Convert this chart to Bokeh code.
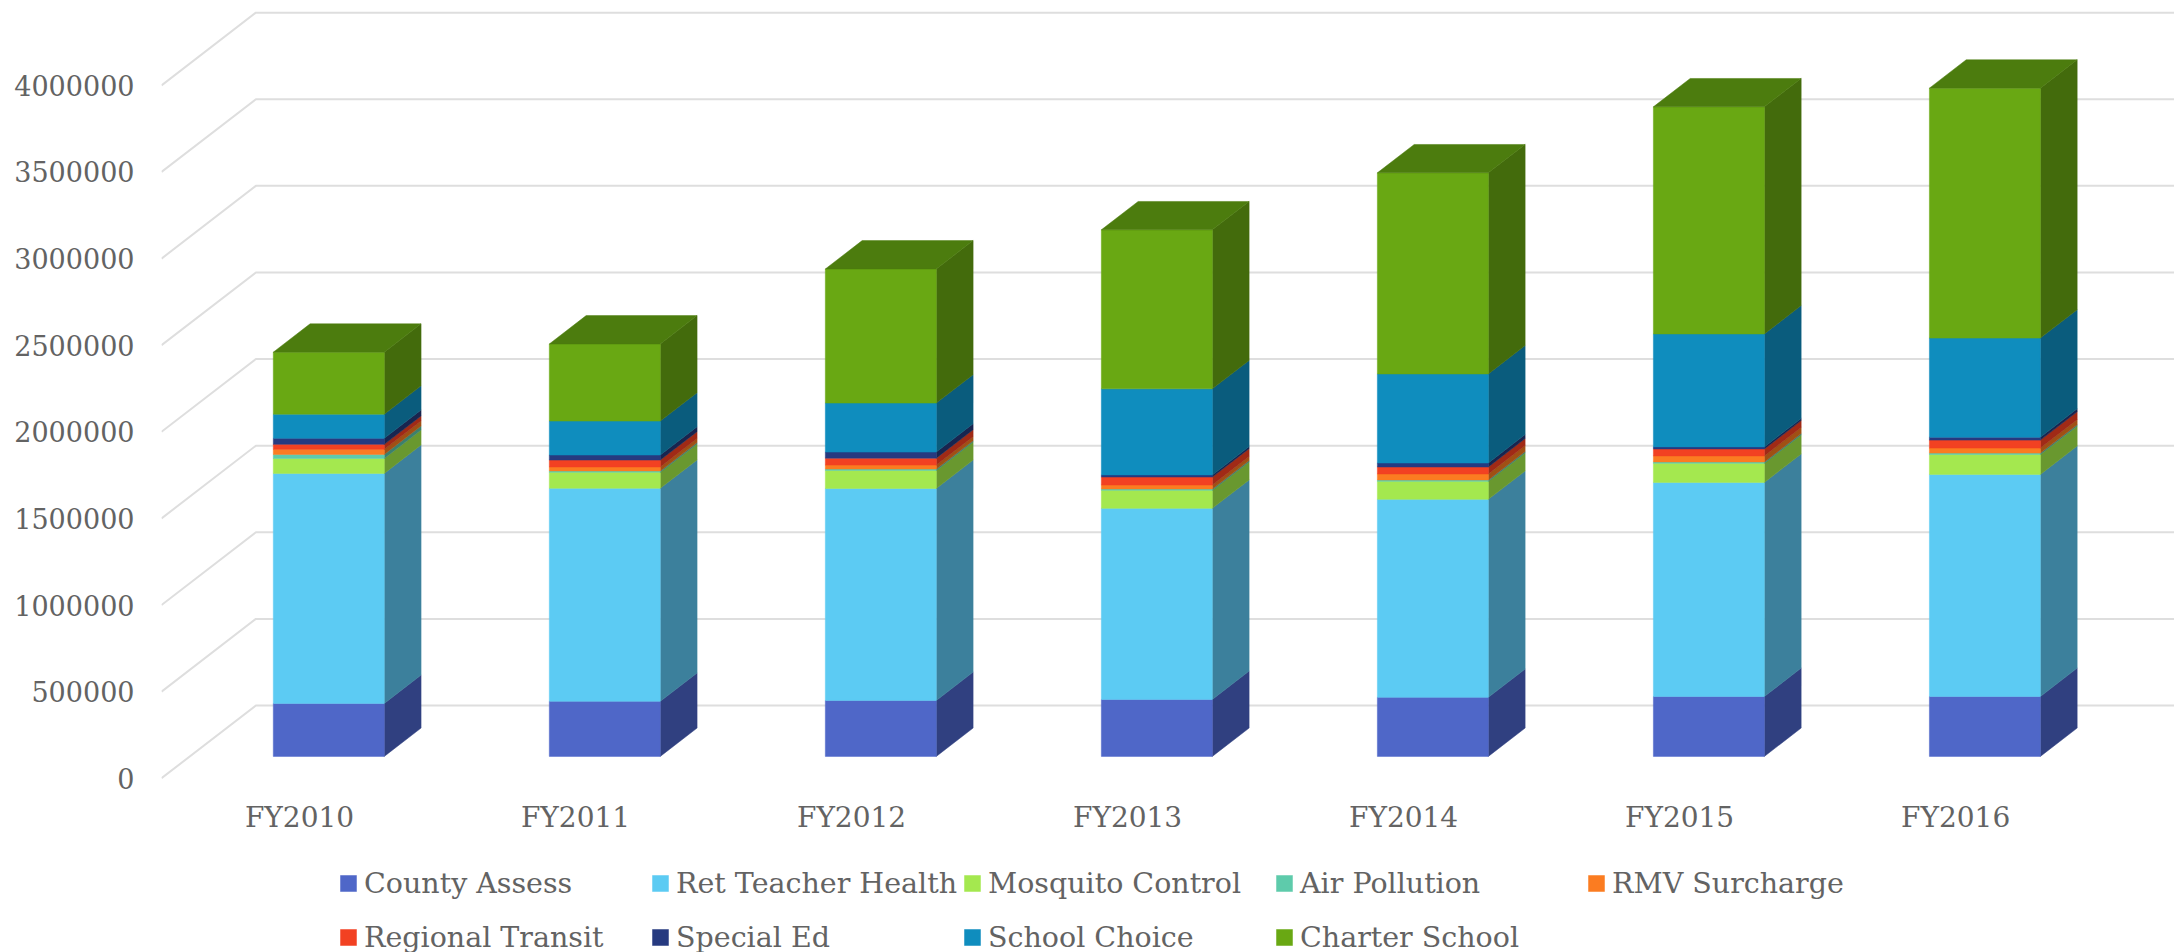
from bokeh.embed import file_html
from bokeh.models import FixedTicker, Legend, LegendItem
from bokeh.plotting import figure
from bokeh.resources import INLINE

# Stacked budget charges per fiscal year
years = ["FY2010", "FY2011", "FY2012", "FY2013", "FY2014", "FY2015", "FY2016"]

county_assess = [306000, 318000, 323000, 329000, 341000, 346000, 346000]
ret_teacher_health = [1328000, 1230000, 1224000, 1103000, 1143000, 1236000, 1282000]
mosquito_control = [86600, 92000, 104000, 104000, 104000, 110000, 115000]
air_pollution = [23000, 8000, 8000, 8000, 8000, 8000, 8000]
rmv_surcharge = [29000, 23000, 23000, 23000, 35000, 35000, 29000]
regional_transit = [29000, 40000, 40000, 46000, 40000, 40000, 46000]
special_ed = [35000, 29000, 35000, 12000, 23000, 12000, 17000]
school_choice = [139000, 196000, 283000, 497000, 514000, 652000, 572000]
charter_school = [358000, 445000, 774000, 918000, 1161000, 1311000, 1443000]

series_names = ["County Assess", "Ret Teacher Health", "Mosquito Control", "Air Pollution",
                "RMV Surcharge", "Regional Transit", "Special Ed", "School Choice", "Charter School"]
series_values = [county_assess, ret_teacher_health, mosquito_control, air_pollution,
                 rmv_surcharge, regional_transit, special_ed, school_choice, charter_school]
front_colors = ["#4F67C8", "#5CCBF3", "#A4E84F", "#5ECBAB", "#FB7C21",
                "#F24122", "#263A80", "#0F8DBE", "#69A813"]
side_colors = ["#304080", "#3C809C", "#69982F", "#3C806C", "#A05014",
               "#A02A16", "#182550", "#0A5C7D", "#436B0C"]
top_color = "#4C7C0E"

value_ticks = [0, 500000, 1000000, 1500000, 2000000, 2500000, 3000000, 3500000, 4000000]

# Oblique projection: floor depth expressed in category and value units
WALL_DX, WALL_DY = 0.342, 420000
FRONT_FRAC = 0.31
BAR_FRAC = 0.39
BAR_WIDTH = 0.402
BAR_DX, BAR_DY = WALL_DX * BAR_FRAC, WALL_DY * BAR_FRAC
BASE_RISE = 126000
X_MIN, X_MAX = -0.5, 6.793
Y_MIN, Y_MAX = -1006000, 4490000
text_color = "#636363"
font = "DejaVu Serif"

p = figure(width=2174, height=952, output_backend="svg", toolbar_location=None,
           x_range=(X_MIN, X_MAX), y_range=(Y_MIN, Y_MAX),
           min_border_left=161, min_border_right=0, min_border_top=0, min_border_bottom=0,
           outline_line_color=None)
p.grid.visible = False

# Floor and back-wall gridlines
p.multi_line(xs=[[X_MIN, X_MIN + WALL_DX, X_MAX] for _ in value_ticks],
             ys=[[v, v + WALL_DY, v + WALL_DY] for v in value_ticks],
             line_color="#DEDEDE", line_width=2)

positions = list(range(len(years)))
off_x = WALL_DX * FRONT_FRAC
off_y = BASE_RISE
legend_items = []
running = [0.0] * len(years)
for name, vals, fc, sc in zip(series_names, series_values, front_colors, side_colors):
    bottoms = [r + off_y for r in running]
    tops = [r + v + off_y for r, v in zip(running, vals)]
    running = [r + v for r, v in zip(running, vals)]
    centers = [i + off_x for i in positions]
    right = [c + BAR_WIDTH / 2 for c in centers]
    # Right-hand face of each box
    p.patches(xs=[[r, r + BAR_DX, r + BAR_DX, r] for r in right],
              ys=[[b, b + BAR_DY, t + BAR_DY, t] for b, t in zip(bottoms, tops)],
              fill_color=sc, line_color=sc, line_width=0.5)
    bar = p.vbar(x=centers, bottom=bottoms, top=tops, width=BAR_WIDTH,
                 fill_color=fc, line_color=fc, line_width=0.5)
    legend_items.append(LegendItem(label=name, renderers=[bar]))

# Lid on the top segment of each stack
left = [i + off_x - BAR_WIDTH / 2 for i in positions]
right = [i + off_x + BAR_WIDTH / 2 for i in positions]
lid_y = [r + off_y for r in running]
p.patches(xs=[[l, r, r + BAR_DX, l + BAR_DX] for l, r in zip(left, right)],
          ys=[[y, y, y + BAR_DY, y + BAR_DY] for y in lid_y],
          fill_color=top_color, line_color=top_color, line_width=0.5)

p.yaxis.ticker = FixedTicker(ticks=value_ticks)
p.yaxis.formatter.use_scientific = False
p.yaxis.axis_line_color = None
p.yaxis.major_tick_line_color = None
p.yaxis.minor_tick_line_color = None
p.yaxis.major_label_standoff = 21
p.yaxis.major_label_text_font = font
p.yaxis.major_label_text_font_size = "27px"
p.yaxis.major_label_text_color = text_color

# The category axis sits just under the floor, inside the frame
p.xaxis.fixed_location = -72000
p.xaxis.ticker = FixedTicker(ticks=positions)
p.xaxis.major_label_overrides = {i: y for i, y in enumerate(years)}
p.xaxis.axis_line_color = None
p.xaxis.major_tick_line_color = None
p.xaxis.minor_tick_line_color = None
p.xaxis.major_label_standoff = 4
p.xaxis.major_label_text_font = font
p.xaxis.major_label_text_font_size = "28px"
p.xaxis.major_label_text_color = text_color

legend = Legend(items=legend_items, ncols=5, orientation="horizontal",
                border_line_color=None, background_fill_color=None,
                label_text_font=font, label_text_font_size="28.5px",
                label_text_color=text_color, label_standoff=6, label_width=286,
                glyph_width=20, glyph_height=20, spacing=0, margin=0, padding=0,
                label_height=54, location=(177, -12))
p.add_layout(legend, "center")

open("out.html", "w").write(file_html(p, INLINE))
